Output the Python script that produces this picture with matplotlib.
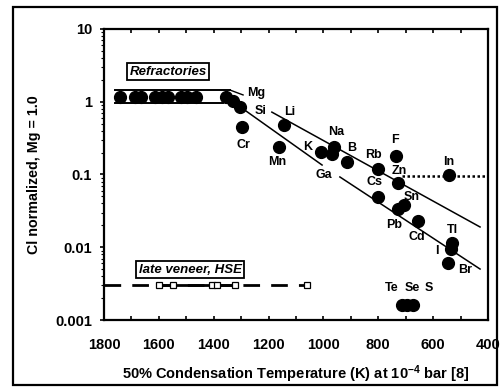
import matplotlib
matplotlib.use('Agg')
import matplotlib.pyplot as plt
from matplotlib.patches import Rectangle
from matplotlib.ticker import MultipleLocator, FixedLocator, FixedFormatter, LogLocator, NullFormatter

plt.rcParams['font.family'] = ['Liberation Sans', 'DejaVu Sans']
plt.rcParams['font.weight'] = 'bold'
plt.rcParams['mathtext.fontset'] = 'custom'
plt.rcParams['mathtext.rm'] = 'Liberation Sans:bold'
plt.rcParams['mathtext.it'] = 'Liberation Sans:bold:italic'

# refractory elements (unlabelled circles in the band)
refr_T = [1742, 1687, 1665, 1613, 1590, 1565, 1518, 1497, 1464, 1355, 1330, 1304]
refr_val = [1.15, 1.15, 1.15, 1.15, 1.15, 1.15, 1.15, 1.15, 1.15, 1.15, 1.02, 0.85]

# labelled moderately volatile / volatile elements
elem_T = [1297, 1162, 1144, 1009, 961, 969, 914, 801, 801, 735, 728, 542,
          706, 728, 655, 531, 535, 546, 714, 695, 672]
elem_val = [0.45, 0.239, 0.48, 0.204, 0.239, 0.19, 0.149, 0.119, 0.049, 0.18, 0.076, 0.098,
            0.038, 0.0336, 0.023, 0.0114, 0.0095, 0.0061, 0.0016, 0.0016, 0.0016]

# HSE late veneer squares
hse_T = [1600, 1548, 1406, 1388, 1322, 1060]
hse_val = [0.003, 0.003, 0.003, 0.003, 0.003, 0.003]

# element labels (text, T, value)
lab_text = ['Mg', 'Si', 'Li', 'Cr', 'Mn', 'K', 'Na', 'B', 'Rb', 'Ga', 'Cs', 'F', 'Zn', 'In',
            'Sn', 'Pb', 'Cd', 'Tl', 'I', 'Br', 'Te', 'Se', 'S']
lab_T = [1246, 1228, 1122, 1293, 1169, 1056, 954, 896, 816, 998, 812, 739, 724, 542,
         677, 743, 659, 528, 586, 484, 750, 677, 615]
lab_val = [1.32, 0.75, 0.72, 0.255, 0.149, 0.239, 0.384, 0.231, 0.185, 0.0984, 0.0788, 0.298,
           0.1117, 0.149, 0.049, 0.0202, 0.0138, 0.01726, 0.00887, 0.00486, 0.00275, 0.00275,
           0.00275]

# trend lines
upper_T = [1188, 429]
upper_val = [0.72, 0.019]
lower_T1 = [1333, 1005]
lower_val1 = [1.02, 0.135]
lower_T2 = [940, 429]
lower_val2 = [0.0925, 0.00502]
band_T = [1760, 1341]
band_top = 1.45
band_bot = 0.96
band_bot_T = [1760, 1366]
mg_lead_T = [1341, 1293]
mg_lead_val = [1.45, 1.24]
in_T = [714, 400]
in_val = [0.095, 0.095]

fig = plt.figure(figsize=(5.02, 3.87), dpi=100)
ax = fig.add_axes([0.2072, 0.1731, 0.7649, 0.752])

ax.set_yscale('log')
ax.set_xlim(1800, 400)
ax.set_ylim(0.001, 10)

# refractory band
ax.plot(band_T, [band_top, band_top], color='black', lw=1.4)
ax.plot(band_bot_T, [band_bot, band_bot], color='black', lw=1.4)
ax.plot(mg_lead_T, mg_lead_val, color='black', lw=1.0)

# trend lines
ax.plot(upper_T, upper_val, color='black', lw=1.1)
ax.plot(lower_T1, lower_val1, color='black', lw=1.1)
ax.plot(lower_T2, lower_val2, color='black', lw=1.1)
ax.plot(in_T, in_val, color='black', lw=1.8, linestyle=(0, (1, 1)))

# late veneer line
ax.plot([1800, hse_T[-1]], [hse_val[0], hse_val[0]], color='black', lw=2.0,
        linestyle=(0, (6, 4)))
ax.plot(hse_T[:5], hse_val[:5], color='black', lw=2.0)
ax.plot(hse_T, hse_val, linestyle='none', marker='s', ms=5, mfc='white', mec='black', mew=0.9)

ax.plot(refr_T, refr_val, linestyle='none', marker='o', ms=8.5, color='black')
ax.plot(elem_T, elem_val, linestyle='none', marker='o', ms=8.5, color='black')

for t, x, y in zip(lab_text, lab_T, lab_val):
    ax.text(x, y, t, fontsize=9, fontweight='bold', ha='center', va='center')

ax.text(1567, 2.6, 'Refractories', fontsize=9.5, fontweight='bold', style='italic',
        ha='center', va='center',
        bbox=dict(boxstyle='square,pad=0.2', fc='white', ec='black', lw=1.3))
ax.text(1486, 0.0049, 'late veneer, HSE', fontsize=9.5, fontweight='bold', style='italic',
        ha='center', va='center',
        bbox=dict(boxstyle='square,pad=0.2', fc='white', ec='black', lw=1.3))

# ticks
ax.xaxis.set_major_locator(MultipleLocator(200))
ax.xaxis.set_minor_locator(MultipleLocator(100))
ax.tick_params(axis='x', which='both', direction='in', top=True, length=3, width=1.2,
               labelsize=10.5, pad=13)
ax.yaxis.set_major_locator(FixedLocator([0.001, 0.01, 0.1, 1, 10]))
ax.yaxis.set_major_formatter(FixedFormatter(['0.001', '0.01', '0.1', '1', '10']))
ax.yaxis.set_minor_locator(LogLocator(base=10, subs=range(2, 10)))
ax.yaxis.set_minor_formatter(NullFormatter())
ax.tick_params(axis='y', which='major', direction='out', length=3, width=1.2, labelsize=10.5, pad=5.5)
ax.tick_params(axis='y', which='minor', direction='out', length=2, width=0.8)
for lab in ax.get_xticklabels() + ax.get_yticklabels():
    lab.set_fontweight('bold')
for sp in ax.spines.values():
    sp.set_linewidth(1.6)

ax.set_xlabel('50% Condensation Temperature (K) at 10$^{-4}$ bar [8]', fontsize=10.5,
              fontweight='bold', labelpad=8)
ax.set_ylabel('Cl normalized, Mg = 1.0', fontsize=10.3, fontweight='bold', labelpad=10)

# outer frame
fig.patches.append(Rectangle((13 / 502, 1 - 385 / 387), 484 / 502, 378 / 387,
                             transform=fig.transFigure, fill=False, ec='black', lw=1.6))

fig.savefig('out.png', dpi=100)
